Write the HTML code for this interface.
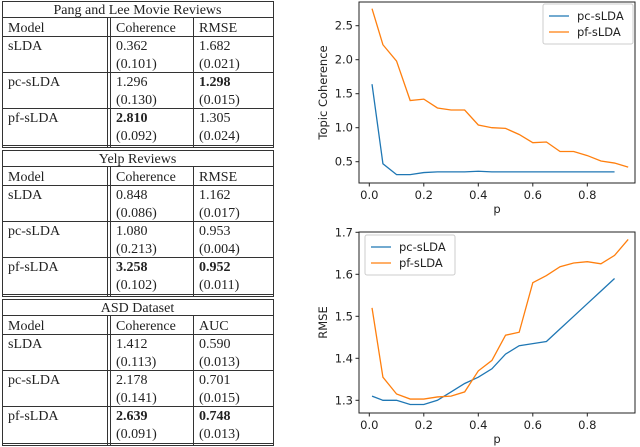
<!DOCTYPE html>
<html><head><meta charset="utf-8"><style>
body{margin:0;background:#fff;width:640px;height:447px;overflow:hidden}
svg{display:block}
.t{font-family:"Liberation Serif",serif;font-size:14px;fill:#222}
.b{font-weight:bold}
.c{font-family:"DejaVu Sans","Liberation Sans",sans-serif;font-size:11.5px;fill:#222}
</style></head><body>
<svg width="640" height="447">
<g id="tables"></g>
<g id="chart1"></g>
<g id="chart2"></g>
</svg>
<script>
const NS="http://www.w3.org/2000/svg";
function el(p,tag,a,txt){const e=document.createElementNS(NS,tag);for(const k in a)e.setAttribute(k,a[k]);if(txt!==undefined)e.textContent=txt;p.appendChild(e);return e;}

// ---------- tables ----------
const tableTitles=["Pang and Lee Movie Reviews","Yelp Reviews","ASD Dataset"];
const metricNames=["RMSE","RMSE","AUC"];
const models=["sLDA","pc-sLDA","pf-sLDA"];
const cohVals=[["0.362","1.296","2.810"],["0.848","1.080","3.258"],["1.412","2.178","2.639"]];
const cohSd=[["(0.101)","(0.130)","(0.092)"],["(0.086)","(0.213)","(0.102)"],["(0.113)","(0.141)","(0.091)"]];
const metVals=[["1.682","1.298","1.305"],["1.162","0.953","0.952"],["0.590","0.701","0.748"]];
const metSd=[["(0.021)","(0.015)","(0.024)"],["(0.017)","(0.004)","(0.011)"],["(0.013)","(0.015)","(0.013)"]];
const boldCoh=[2,2,2], boldMet=[1,2,2];
const tops=[1,150,299];
const tg=document.getElementById('tables');
const L=2,R=273,C1=107.5,C2=193.5;
for(let t=0;t<3;t++){
  const y0=tops[t];
  const g=el(tg,'g',{});
  
  
  const yt=y0+16, yh=yt+19, rows=[yh,yh+36,yh+72,yh+109];
  const ln=(x1,y1,x2,y2)=>el(g,'line',{x1,y1,x2,y2,stroke:'#333','stroke-width':1});
  ln(L,y0+.5,R,y0+.5);ln(L,yt+.5,R,yt+.5);
  rows.forEach(y=>ln(L,y+.5,R,y+.5));
  ln(L,rows[3]+2.5,R,rows[3]+2.5);
  ln(L+.5,y0,L+.5,rows[3]+3);ln(R+.5,y0,R+.5,rows[3]+3);
  ln(C1,yt,C1,rows[3]+3);ln(C1+3,yt,C1+3,rows[3]+3);ln(C2,yt,C2,rows[3]+3);
  el(g,'text',{x:(L+R)/2,y:yt-3,'text-anchor':'middle',class:'t'},tableTitles[t]);
  el(g,'text',{x:8,y:yh-4,class:'t'},'Model');
  el(g,'text',{x:116,y:yh-4,class:'t'},'Coherence');
  el(g,'text',{x:199,y:yh-4,class:'t'},metricNames[t]);
  for(let r=0;r<3;r++){
    const ry=rows[r];
    el(g,'text',{x:8,y:ry+14,class:'t'},models[r]);
    el(g,'text',{x:116,y:ry+14,class:'t'+(boldCoh[t]===r?' b':'')},cohVals[t][r]);
    el(g,'text',{x:116,y:ry+32,class:'t'},cohSd[t][r]);
    el(g,'text',{x:199,y:ry+14,class:'t'+(boldMet[t]===r?' b':'')},metVals[t][r]);
    el(g,'text',{x:199,y:ry+32,class:'t'},metSd[t][r]);
  }
}

// ---------- chart data ----------
const pcX1=[0.01,0.05,0.1,0.15,0.2,0.25,0.3,0.35,0.4,0.45,0.5,0.55,0.6,0.65,0.7,0.75,0.8,0.85,0.9];
const pcCoh=[1.64,0.47,0.31,0.31,0.34,0.35,0.35,0.35,0.36,0.35,0.35,0.35,0.35,0.35,0.35,0.35,0.35,0.35,0.35];
const pfX1=[0.01,0.05,0.1,0.15,0.2,0.25,0.3,0.35,0.4,0.45,0.5,0.55,0.6,0.65,0.7,0.75,0.8,0.85,0.9,0.95];
const pfCoh=[2.75,2.22,1.98,1.40,1.42,1.29,1.26,1.26,1.04,1.00,0.99,0.90,0.78,0.79,0.65,0.65,0.59,0.51,0.48,0.42];
const pcRmse=[1.31,1.30,1.30,1.29,1.29,1.30,1.32,1.34,1.355,1.375,1.41,1.43,1.435,1.44,1.47,1.50,1.53,1.56,1.59];
const pfRmse=[1.52,1.355,1.315,1.303,1.303,1.308,1.31,1.32,1.37,1.395,1.455,1.462,1.58,1.597,1.618,1.627,1.630,1.625,1.645,1.683];
const xTicks=[0.0,0.2,0.4,0.6,0.8];
const xTickLabels=["0.0","0.2","0.4","0.6","0.8"];
const yTicks1=[0.5,1.0,1.5,2.0,2.5];
const yTickLabels1=["0.5","1.0","1.5","2.0","2.5"];
const yTicks2=[1.3,1.4,1.5,1.6,1.7];
const yTickLabels2=["1.3","1.4","1.5","1.6","1.7"];
const seriesNames=["pc-sLDA","pf-sLDA"];

function chart(gid,box,ymin,ymax,yTicks,yLabels,ylabel,series,leg){
  const g=document.getElementById(gid);
  const sx=v=>369.3+v*272.5;
  const sy=v=>box.b-(v-ymin)/(ymax-ymin)*(box.b-box.t);
  el(g,'rect',{x:box.l,y:box.t,width:box.r-box.l,height:box.b-box.t,fill:'none',stroke:'#222','stroke-width':1});
  xTicks.forEach((v,i)=>{
    el(g,'line',{x1:sx(v),x2:sx(v),y1:box.b,y2:box.b+3.5,stroke:'#222'});
    const tx=el(g,'text',{x:sx(v),y:box.b+16,'text-anchor':'middle',class:'c'},xTickLabels[i]);
    
    
  });
  yTicks.forEach((v,i)=>{
    el(g,'line',{x1:box.l-3.5,x2:box.l,y1:sy(v),y2:sy(v),stroke:'#222'});
    const tx=el(g,'text',{x:box.l-6,y:sy(v)+4,'text-anchor':'end',class:'c'},yLabels[i]);
    
    
  });
  const xl=el(g,'text',{x:(box.l+box.r)/2,y:box.b+30,'text-anchor':'middle',class:'c'},'p');
  
  
  const yl=el(g,'text',{x:0,y:0,'text-anchor':'middle',class:'c',transform:`translate(${box.l-32},${(box.t+box.b)/2}) rotate(-90)`},ylabel);
  
  
  series.forEach(s=>{
    const p=el(g,'polyline',{points:s.x.map((x,i)=>sx(x)+','+sy(s.y[i])).join(' '),fill:'none',stroke:s.c,'stroke-width':1.3});
    
    
  });
  const lg=el(g,'g',{});
  
  
  el(lg,'rect',{x:leg.x,y:leg.y,width:90,height:40,rx:2,fill:'#fff',stroke:'#ccc'});
  series.forEach((s,i)=>{
    const yy=leg.y+12+i*16;
    el(lg,'line',{x1:leg.x+6,x2:leg.x+26,y1:yy,y2:yy,stroke:s.c,'stroke-width':1.3});
    const t=el(lg,'text',{x:leg.x+34,y:yy+4,class:'c'},s.n);
    
    
  });
}
// y: 2.5 at 25.7, 0.5 at 161.7 -> 68px per 1.0
chart('chart1',{l:359,r:635,t:2,b:183},0.5-(183-161.7)/68,0.5+(183-2-21.3)/68,yTicks1,yTickLabels1,'Topic Coherence',
  [{x:pcX1,y:pcCoh,c:'#1f77b4',n:seriesNames[0]},{x:pfX1,y:pfCoh,c:'#ff7f0e',n:seriesNames[1]}],{x:543,y:4});
// y: 1.7 at 232.3, 1.3 at 400.3 -> 420px per 1.0
chart('chart2',{l:359,r:635,t:232,b:413},1.3-(413-400.3)/420,1.7+(232.3-232)/420,yTicks2,yTickLabels2,'RMSE',
  [{x:pcX1,y:pcRmse,c:'#1f77b4',n:seriesNames[0]},{x:pfX1,y:pfRmse,c:'#ff7f0e',n:seriesNames[1]}],{x:365,y:235});
</script>
</body></html>
